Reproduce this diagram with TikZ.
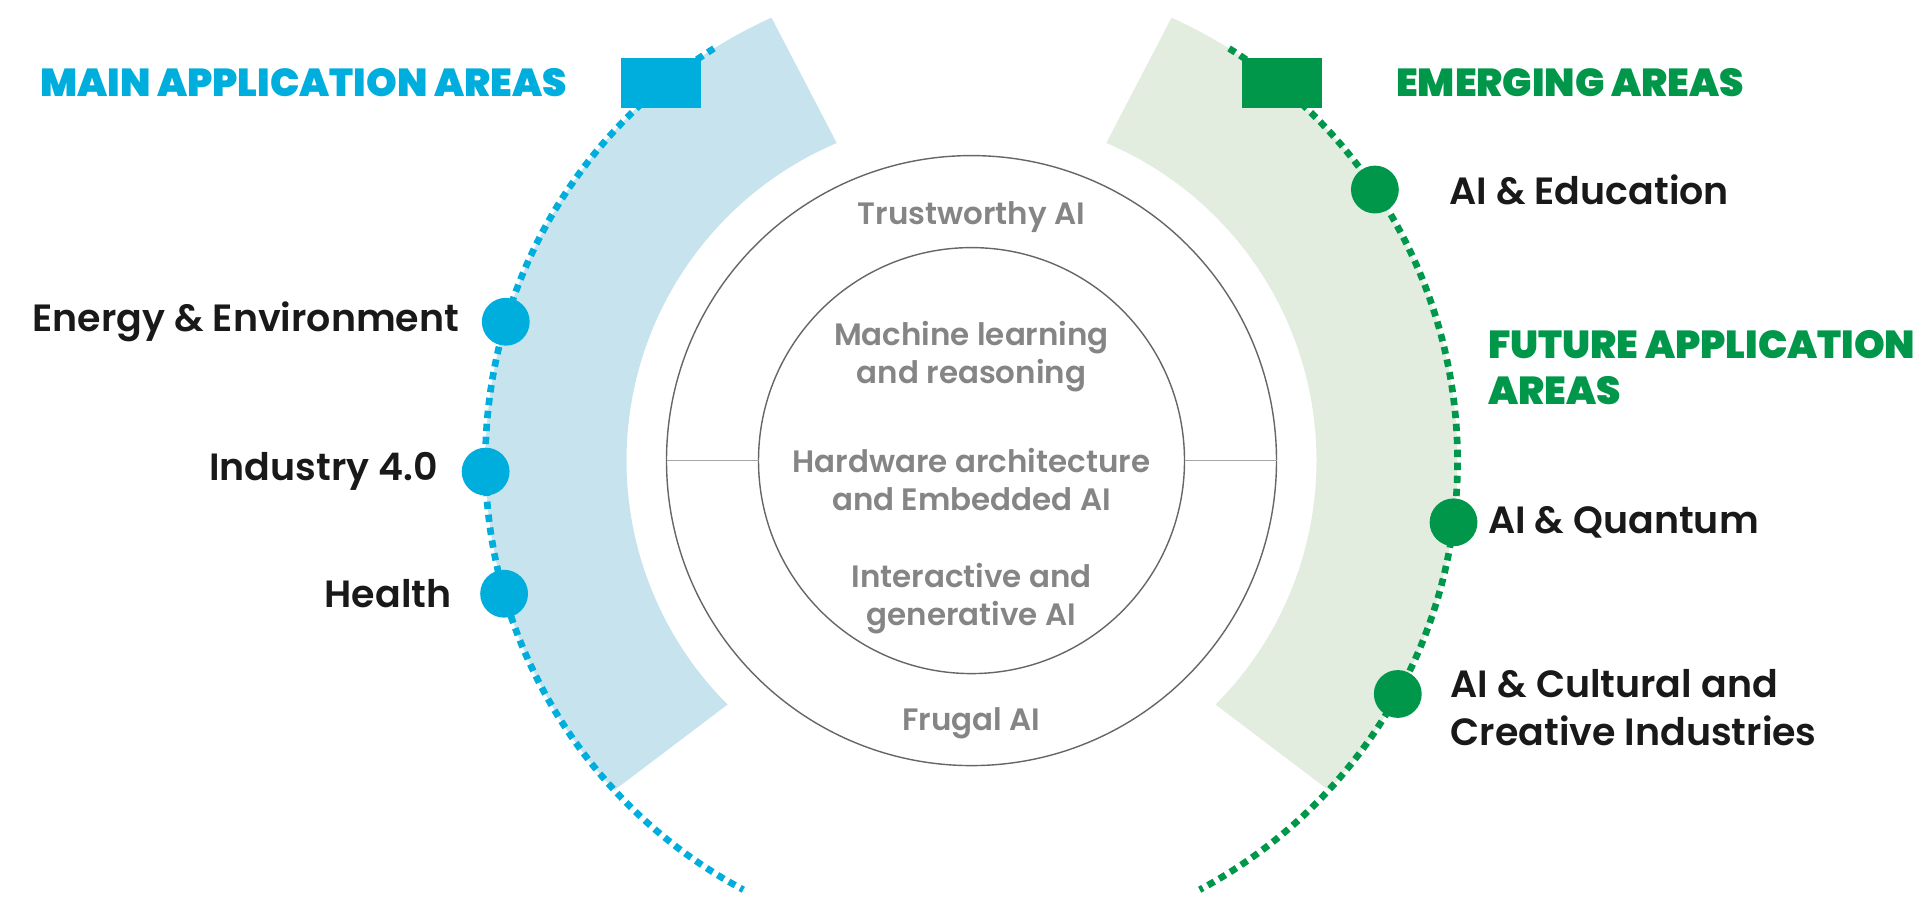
\documentclass[tikz,border=0pt]{standalone}
\usepackage{fontspec}
\setmainfont{Poppins}
\newfontfamily\midfont{Poppins SemiBold}
\newfontfamily\heavyfont{Poppins Black}
\usetikzlibrary{positioning}
\definecolor{mainblue}{HTML}{00AEDD}
\definecolor{bandblue}{HTML}{C7E3ED}
\definecolor{emerggreen}{HTML}{00974A}
\definecolor{bandgreen}{HTML}{E2EDE0}
\definecolor{coregray}{HTML}{858585}
\tikzset{
  dotarc/.style={line width=1.9pt, dash pattern=on 2.1pt off 1.6pt},
  spot/.style={circle, fill, draw=white, line width=0.8pt, inner sep=0pt, minimum size=0.45cm},
  flag/.style={rectangle, fill, inner sep=0pt, minimum width=0.8cm, minimum height=0.5cm},
  head/.style={font=\heavyfont\fontsize{11.1}{13}\selectfont, inner sep=0pt},
  area/.style={font=\midfont\fontsize{10.8}{13.6}\selectfont, text=black!90, inner sep=0pt},
  core/.style={font=\midfont\fontsize{8.8}{10.9}\selectfont, text=coregray, align=center, inner sep=0pt},
  ring/.style={circle, draw=black!60, line width=0.4pt, inner sep=0pt, outer sep=0pt},
}
\begin{document}
\begin{tikzpicture}
  \useasboundingbox (-9.715,-4.404) rectangle (9.495,4.606);
  \def \rdot {4.86}
  \def \rband {3.45}
  % bands behind the dotted arcs
  \fill[bandblue] (114.3:\rdot) arc (114.3:222.7:\rdot) -- (225:\rband) arc (225:113:\rband) -- cycle;
  \fill[bandgreen] (65.7:\rdot) arc (65.7:-42.7:\rdot) -- (-45:\rband) arc (-45:67:\rband) -- cycle;
  \draw[dotarc, mainblue] (122:\rdot) arc (122:242:\rdot);
  \draw[dotarc, emerggreen] (58:\rdot) arc (58:-62:\rdot);
  % core rings
  \node[ring, minimum size=6.1cm] (outer) at (0,0) {};
  \node[ring, minimum size=4.26cm] (inner) at (0,0) {};
  \draw[black!35, line width=0.4pt] (outer.west) -- (inner.west);
  \draw[black!35, line width=0.4pt] (inner.east) -- (outer.east);
  \node[core] (trust) at (0,2.43) {Trustworthy AI};
  \node[core] (ml) at (0,1.04) {Machine learning\\and reasoning};
  \node[core] (hw) at (0,-0.19) {Hardware architecture\\and Embedded AI};
  \node[core] (gen) at (0,-1.38) {Interactive and\\generative AI};
  \node[core] (frugal) at (0,-2.63) {Frugal AI};
  % main application areas
  \node[flag, mainblue] (mainsq) at (129.4:4.89) {};
  \node[head, text=mainblue, left=0.53cm of mainsq] (mainhd) {MAIN APPLICATION AREAS};
  \foreach \a/\n in {163.4/energy, 181.3/industry, 195.9/health}
    \node[spot, mainblue] (\n) at (\a:\rdot) {};
  \node[area, left=0.22cm of energy] (energylbl) {Energy \& Environment};
  \node[area, left=0.23cm of industry] (industrylbl) {Industry 4.0};
  \node[area, left=0.28cm of health] (healthlbl) {Health};
  % emerging and future areas
  \node[flag, emerggreen] (emergsq) at (50.6:4.89) {};
  \node[head, text=emerggreen, right=0.73cm of emergsq] (emerghd) {EMERGING AREAS};
  \foreach \a/\n in {33.9/educ, -7.3/quant, -28.7/cult}
    \node[spot, emerggreen] (\n) at (\a:\rdot) {};
  \node[area, right=0.5cm of educ] (educlbl) {AI \& Education};
  \node[head, text=emerggreen, align=left, anchor=north west] (futurehd) at (5.158,1.31) {FUTURE APPLICATION\\AREAS};
  \node[area, right=0.1cm of quant] (quantlbl) {AI \& Quantum};
  \node[area, align=left, anchor=north west] (cultlbl) at (4.785,-2.084) {AI \& Cultural and\\Creative Industries};
\end{tikzpicture}
\end{document}
